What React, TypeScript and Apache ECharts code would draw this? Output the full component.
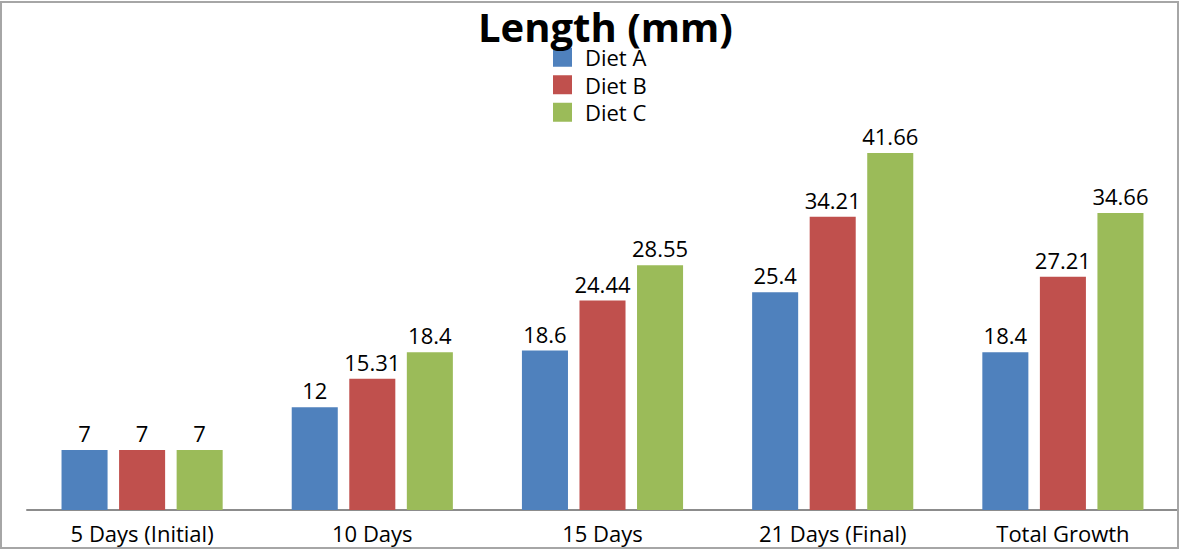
import React, { useEffect, useRef } from "react";
import * as echarts from "echarts";

const categories = ["5 Days (Initial)", "10 Days", "15 Days", "21 Days (Final)", "Total Growth"];
const dietA = [7, 12, 18.6, 25.4, 18.4];
const dietB = [7, 15.31, 24.44, 34.21, 27.21];
const dietC = [7, 18.4, 28.55, 41.66, 34.66];
const seriesNames = ["Diet A", "Diet B", "Diet C"];
const colors = ["#4F81BD", "#C0504D", "#9BBB59"];

const FONT = "'Open Sans', 'Noto Sans', sans-serif";

export default function App() {
  const ref = useRef<HTMLDivElement>(null);
  useEffect(() => {
    if (!ref.current) return;
    const chart = echarts.init(ref.current, null, { renderer: "svg" });
    const data = [dietA, dietB, dietC];
    chart.setOption({
      animation: false,
      backgroundColor: "#ffffff",
      title: {
        text: "Length (mm)",
        left: 478,
        top: 7,
        padding: 0,
        textStyle: { fontFamily: FONT, fontSize: 40, fontWeight: "bold", color: "#000", lineHeight: 38 },
      },
      legend: {
        orient: "vertical",
        left: 553,
        top: 44,
        padding: 0,
        itemWidth: 19,
        itemHeight: 19,
        itemGap: 1,
        icon: "rect",
        textStyle: { fontFamily: FONT, fontSize: 22, lineHeight: 26.5, color: "#000", padding: [0, 0, 0, 8] },
        data: seriesNames,
      },
      graphic: [
        {
          type: "rect",
          shape: { x: 1, y: 2, width: 1177, height: 546 },
          style: { fill: "none", stroke: "#A6A6A6", lineWidth: 2 },
          z: 100,
        },
      ],
      grid: { left: 27, right: 2, top: 124.4, bottom: 41, containLabel: false },
      xAxis: {
        type: "category",
        data: categories,
        axisLine: { lineStyle: { color: "#8C8C8C", width: 2 } },
        axisTick: { show: false },
        axisLabel: { fontFamily: FONT, fontSize: 22, color: "#000", margin: 12 },
      },
      yAxis: {
        type: "value",
        min: 0,
        max: 45,
        interval: 5,
        show: false,
        splitLine: { show: false },
      },
      series: seriesNames.map((name, i) => ({
        name,
        type: "bar",
        data: data[i],
        barGap: "25%",
        barCategoryGap: "30%",
        itemStyle: { color: colors[i] },
        label: {
          show: true,
          position: "top",
          distance: 6,
          fontFamily: FONT,
          fontSize: 22,
          color: "#000",
        },
      })),
    });
    return () => chart.dispose();
  }, []);
  return (
    <div
      ref={ref}
      style={{ position: "fixed", left: 0, top: 0, width: 1180, height: 551 }}
    />
  );
}
